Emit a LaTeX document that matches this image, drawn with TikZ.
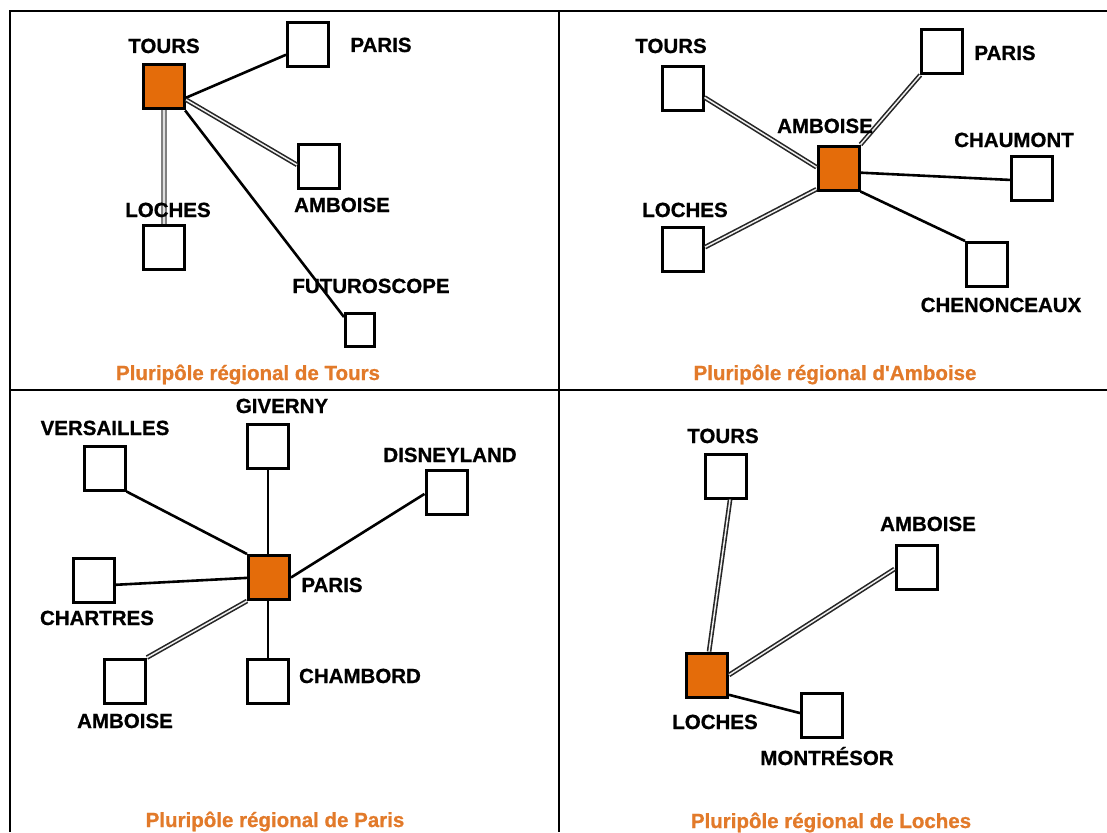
\documentclass[tikz,border=0pt]{standalone}
\usepackage{fontspec}
\setmainfont{Liberation Sans}
\newfontfamily\heavyfont{Liberation Sans Bold}[FakeBold=0.8]
\definecolor{hub}{HTML}{E46C0A}
\definecolor{ttlc}{HTML}{E27A2A}
\tikzset{
  box/.style={draw=black, line width=3pt, fill=white, minimum width=41pt, minimum height=44pt, inner sep=0pt},
  hubbox/.style={box, fill=hub},
  smallbox/.style={box, minimum width=29pt, minimum height=33pt},
  lbl/.style={font=\heavyfont\fontsize{20.5}{24}\selectfont, anchor=base, inner sep=0pt},
  ttl/.style={lbl, text=ttlc},
  link/.style={line width=2.6pt, black},
  dlink/.style={draw=black!85, line width=1.6pt, double=white!88!gray, double distance=1.5pt},
  glink/.style={draw=black!50, line width=2pt, double=white!75!gray, double distance=1.4pt},
  framel/.style={line width=2.6pt, black}
}
\begin{document}
\begin{tikzpicture}[x=1pt, y=-1pt]
\useasboundingbox (0,0) rectangle (1107,832);
% frame
\draw[framel] (10,832) -- (10,11) -- (1107,11);
\draw[framel] (10,390) -- (1107,390);
\draw[framel] (559,11) -- (559,832);

% ---------- Q1 : Tours ----------
\node[hubbox] (q1t) at (164,87) {};
\node[box] (q1p) at (308,44.5) {};
\node[box] (q1a) at (319,166) {};
\node[box] (q1l) at (163.5,247.5) {};
\node[smallbox] (q1f) at (360,330) {};
\draw[link] (q1t.-26) -- (q1p.205);
\draw[dlink] (q1t.-30) -- (q1a.177);
\draw[glink] (q1t.south) -- (q1t.south |- q1l.north);
\draw[link] (q1t.-48) -- (q1f.141);
\node[lbl] (q1tl) at (164,53) {TOURS};
\node[lbl] (q1pl) at (381,52) {PARIS};
\node[lbl] (q1al) at (342,212) {AMBOISE};
\node[lbl] (q1ll) at (168,217) {LOCHES};
\node[lbl] (q1fl) at (371,293) {FUTUROSCOPE};
\node[ttl] (q1ttl) at (248,380) {Pluripôle régional de Tours};

% ---------- Q2 : Amboise ----------
\node[hubbox] (q2a) at (838.5,168) {};
\node[box] (q2t) at (682.5,89) {};
\node[box] (q2p) at (941.5,51.5) {};
\node[box] (q2ch) at (1032,178) {};
\node[box] (q2l) at (683,249.5) {};
\node[box] (q2cn) at (987,264.5) {};
\draw[dlink] (q2t.-21) -- (q2a.178);
\draw[dlink] (q2p.228) -- (q2a.north east);
\draw[dlink] (q2l.6) -- (q2a.224);
\draw[link] (q2a.-12) -- (q2ch.185);
\draw[link] (q2a.south east) -- (q2cn.north west);
\node[lbl] (q2tl) at (671,53) {TOURS};
\node[lbl] (q2pl) at (1005,60) {PARIS};
\node[lbl] (q2al) at (825,133) {AMBOISE};
\node[lbl] (q2chl) at (1014,147) {CHAUMONT};
\node[lbl] (q2ll) at (685,217) {LOCHES};
\node[lbl] (q2cnl) at (1001,312) {CHENONCEAUX};
\node[ttl] (q2ttl) at (835,380) {Pluripôle régional d'Amboise};

% ---------- Q3 : Paris ----------
\node[hubbox] (q3p) at (269,577.5) {};
\node[box] (q3g) at (268,446.5) {};
\node[box] (q3v) at (104.5,468) {};
\node[box] (q3d) at (446.5,492) {};
\node[box] (q3c) at (94,580.5) {};
\node[box] (q3a) at (125,681) {};
\node[box] (q3cb) at (268,681) {};
\draw[link] (q3v.south east) -- (q3p.north west);
\draw[link] (q3g.south) -- (q3g.south |- q3p.north);
\draw[link] (q3d.185) -- (q3p.east);
\draw[link] (q3c.-11) -- (q3p.181);
\draw[dlink] (q3a.north east) -- (q3p.south west);
\draw[link] (q3cb.north) -- (q3cb.north |- q3p.south);
\node[lbl] (q3gl) at (282,413) {GIVERNY};
\node[lbl] (q3vl) at (105,435) {VERSAILLES};
\node[lbl] (q3dl) at (450,462) {DISNEYLAND};
\node[lbl] (q3pl) at (332,592) {PARIS};
\node[lbl] (q3cl) at (97,625) {CHARTRES};
\node[lbl] (q3al) at (125,728) {AMBOISE};
\node[lbl] (q3cbl) at (360,683) {CHAMBORD};
\node[ttl] (q3ttl) at (275,827) {Pluripôle régional de Paris};

% ---------- Q4 : Loches ----------
\node[hubbox] (q4l) at (707,675) {};
\node[box] (q4t) at (725.5,476) {};
\node[box] (q4a) at (916.5,567.5) {};
\node[box] (q4m) at (822,715) {};
\draw[dlink] (q4t.-79) -- (q4l.85);
\draw[dlink] (q4a.184) -- (q4l.east);
\draw[link] (q4m.175) -- (q4l.-42);
\node[lbl] (q4tl) at (723,443) {TOURS};
\node[lbl] (q4al) at (928,531) {AMBOISE};
\node[lbl] (q4ll) at (715,729) {LOCHES};
\node[lbl] (q4ml) at (827,765) {MONTRÉSOR};
\node[ttl] (q4ttl) at (831,828) {Pluripôle régional de Loches};
\end{tikzpicture}
\end{document}
